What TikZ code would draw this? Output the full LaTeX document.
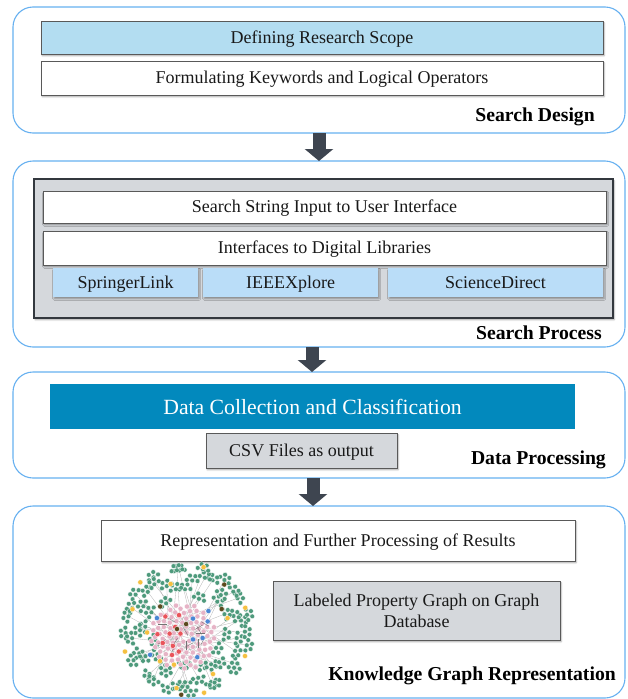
\documentclass[tikz,border=0pt]{standalone}
\usepackage{fontspec}
\setmainfont{Liberation Serif}
\usetikzlibrary{arrows.meta,shadows.blur,positioning}

\definecolor{panelblue}{HTML}{66B0F0}
\definecolor{scopeblue}{HTML}{B3DDF1}
\definecolor{libblue}{HTML}{BADDF8}
\definecolor{boxgrey}{HTML}{D5D8DC}
\definecolor{framegrey}{HTML}{33383E}
\definecolor{collblue}{HTML}{0289BD}
\definecolor{arrowgrey}{HTML}{3E4550}
\definecolor{leafgreen}{HTML}{4E9A7C}
\definecolor{corepink}{HTML}{E6B3C6}
\definecolor{dotyellow}{HTML}{F5C040}
\definecolor{dotred}{HTML}{E9545A}
\definecolor{dotblue}{HTML}{4A86D4}
\definecolor{dotbrown}{HTML}{5B4A1E}

\begin{document}
\begin{tikzpicture}[x=1pt,y=1pt,>={Triangle[width=28pt,length=12pt]}]
  \tikzstyle{panel}=[draw=panelblue,line width=1.1pt,rounded corners=20pt,
                     minimum width=612pt,inner sep=0pt,outer sep=0pt]
  \tikzstyle{plainbox}=[draw=black!65,line width=.8pt,fill=white,inner sep=0pt,outer sep=0pt,
                   font=\fontsize{18}{21}\selectfont,text=black!90,
                   blur shadow={shadow xshift=1.2pt,shadow yshift=-1.8pt,
                                shadow blur radius=1.5pt,shadow opacity=35}]
  \tikzstyle{box}=[plainbox,text height=14pt,text depth=3pt]
  \tikzstyle{lib}=[box,draw=none,fill=libblue,minimum height=29pt]
  \tikzstyle{phase}=[font=\bfseries\fontsize{19.7}{22}\selectfont,anchor=base east,inner sep=0pt]
  \tikzstyle{flow}=[->,draw=arrowgrey,fill=arrowgrey,line width=13pt]
  \tikzstyle{edge}=[draw=black!30,line width=.3pt]
  \tikzstyle{leaf}=[fill=leafgreen,draw=white,line width=.3pt]
  \tikzstyle{dot}=[draw=white,line width=.3pt]

  \useasboundingbox (0,0) rectangle (627,-699);

  % the four phases
  \node[panel,minimum height=126pt] (design)     at (319,-70)  {};
  \node[panel,minimum height=186pt] (process)    at (319,-254) {};
  \node[panel,minimum height=106pt] (processing) at (319,-425) {};
  \node[panel,minimum height=192pt] (kgraph)     at (319,-602) {};

  % search design
  \node[box,fill=scopeblue,minimum width=562pt,minimum height=33pt] (scope) at (322,-37.5)
       {Defining Research Scope};
  \node[box,minimum width=562pt,minimum height=34pt] (keywords) [below=7pt of scope]
       {Formulating Keywords and Logical Operators};
  \node[phase] (designlbl) at (595,-121) {Search Design};

  % search process
  \node[plainbox,fill=boxgrey,draw=framegrey,line width=2pt,minimum width=579pt,
        minimum height=139pt] (libframe) at (323.5,-248.5) {};
  \node[box,minimum width=563pt,minimum height=32pt] (searchstring) at (324.5,-207)
       {Search String Input to User Interface};
  \node[box,minimum width=563pt,minimum height=34pt] (interfaces) [below=8pt of searchstring]
       {Interfaces to Digital Libraries};
  \node[lib,minimum width=145pt] (springer) at (125.5,-282.5) {SpringerLink};
  \node[lib,minimum width=175pt] (ieee)     [right=5pt of springer]  {IEEEXplore};
  \node[lib,minimum width=215pt] (science)  [right=10pt of ieee]     {ScienceDirect};
  \node[phase] (processlbl) at (602,-339) {Search Process};

  % data processing
  \node[box,draw=none,fill=collblue,text=white,blur shadow={shadow opacity=0},
        font=\fontsize{21.7}{24}\selectfont,text height=18pt,text depth=3pt,
        minimum width=525pt,minimum height=45pt]
       (collect) at (312.5,-406.5) {Data Collection and Classification};
  \node[box,fill=boxgrey,minimum width=191pt,minimum height=35pt] (csv)
       [below=4pt of collect,xshift=-11pt] {CSV Files as output};
  \node[phase] (processinglbl) at (606,-464) {Data Processing};

  % knowledge graph representation
  \node[box,minimum width=474pt,minimum height=41pt] (results) at (338,-540.5)
       {Representation and Further Processing of Results};
  \node[plainbox,fill=boxgrey,minimum width=287pt,minimum height=59pt,align=center] (lpg)
       at (416.5,-610.5) {Labeled Property Graph on Graph\\Database};
  \node[phase] (kgraphlbl) at (616,-680) {Knowledge Graph Representation};

  % graph picture
  \begin{scope}[shift={(187,-629)}]
    \foreach \k in {1,...,60}{
      \pgfmathsetmacro\ang{\k*6+3*sin(\k*77)}
      \pgfmathsetmacro\rad{32+30*abs(sin(\k*131))}
      \draw[edge] ({-5+14*sin(\k*53)},{-8+14*cos(\k*71)}) -- (\ang:\rad);
      \foreach \j in {-1.5,-0.5,0.5,1.5}
        \draw[edge] (\ang:\rad) -- ++(\ang+\j*60:5.4);
    }
    \foreach \k in {1,...,60}{
      \pgfmathsetmacro\ang{\k*6+3*sin(\k*77)}
      \pgfmathsetmacro\rad{32+30*abs(sin(\k*131))}
      \foreach \j in {-1.5,-0.5,0.5,1.5}
        \filldraw[leaf] (\ang:\rad) ++(\ang+\j*60:5.4) circle (2.4);
      \filldraw[leaf] (\ang:\rad) circle (2.4);
    }
    \foreach \k in {1,...,100}{
      \pgfmathsetmacro\ang{\k*137.5}
      \pgfmathsetmacro\rad{33*sqrt(\k/100)}
      \filldraw[dot,fill=corepink] ({-4+\rad*cos(\ang)},{-8+\rad*sin(\ang)}) circle (2.6);
    }
    \foreach \k in {1,...,14}
      \draw[black!55,line width=.4pt] ({-4+18*sin(\k*41)},{-6+14*cos(\k*67)})
        -- ++({\k*30}:9);
    \foreach \a/\r in {20/62,75/64,110/48,160/58,200/66,230/42,260/60,300/52,335/64,
                       15/42,250/38,285/66,185/40,135/66}
      \filldraw[dot,fill=dotyellow] (\a:\r) circle (2.6);
    \foreach \a/\r in {150/25,195/18,210/28,230/22,250/24,170/12,120/16,215/8,240/30,190/30}
      \filldraw[dot,fill=dotred] (\a:\r) circle (2.6);
    \foreach \a/\r in {40/28,20/22,160/32,215/45,290/30,330/18,60/12,300/12}
      \filldraw[dot,fill=dotblue] (\a:\r) circle (2.6);
    \foreach \a/\r in {50/58,140/35,180/10,265/66,100/5,30/40}
      \filldraw[dot,fill=dotbrown] (\a:\r) circle (2.6);
  \end{scope}

  % flow between phases
  \draw[flow] (design.south) -- (process.north);
  \draw[flow] ([xshift=-7pt]process.south) -- ([xshift=-7pt]processing.north);
  \draw[flow] ([xshift=-6pt]processing.south) -- ([xshift=-6pt]kgraph.north);

\end{tikzpicture}
\end{document}
